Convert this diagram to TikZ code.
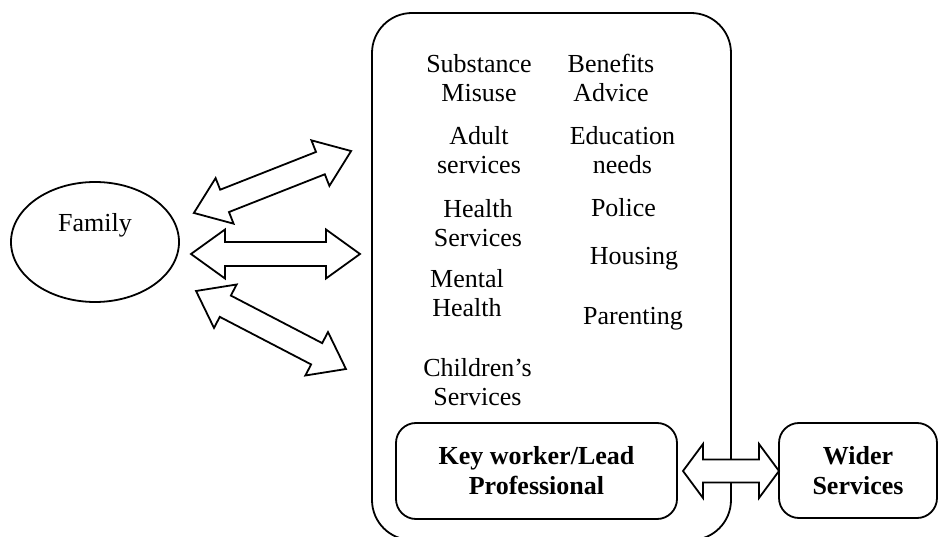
\documentclass[tikz,border=0pt]{standalone}
\usepackage{fontspec}
\setmainfont{Liberation Serif}
\usetikzlibrary{shapes.geometric}
\begin{document}
\begin{tikzpicture}[x=1pt,y=-1pt,
  % labels are placed by the baseline of their last line
  lbl/.style={font=\fontsize{26}{29}\selectfont, align=center, inner sep=0pt, anchor=base},
  boldbox/.style={draw, line width=1.8pt, rounded corners=20pt, inner sep=0pt,
    font=\fontsize{26}{30}\selectfont\bfseries, align=center},
  frame/.style={draw, line width=1.8pt},
  hollow/.style={draw, line width=1.8pt, fill=white, line join=miter},
  % two-headed block arrow: half length, head length, half head width, half shaft width
  pics/twoway/.style n args={4}{code={
    \draw[hollow] (-#1,0) -- ({#2-#1},#3) -- ({#2-#1},#4) -- ({#1-#2},#4) -- ({#1-#2},#3)
      -- (#1,0) -- ({#1-#2},-#3) -- ({#1-#2},-#4) -- ({#2-#1},-#4) -- ({#2-#1},-#3) -- cycle;
  }}
]
\useasboundingbox (0,0) rectangle (938,537);
\clip (0,0) rectangle (938,537);

% the family
\node[frame, ellipse, minimum width=168pt, minimum height=120pt, inner sep=0pt,
  font=\fontsize{26}{29}\selectfont, text height=17.7pt, text depth=37.7pt]
  (family) at (95,242) {Family};

% the team around the family
\node[frame, rounded corners=40pt, minimum width=359pt, minimum height=527pt, inner sep=0pt]
  (hub) at (551.5,276.5) {};

\node[lbl] (s1) at (479,101.5) {Substance\\Misuse};
\node[lbl] (s2) at (611,101.5) {Benefits\\Advice};
\node[lbl] (s3) at (479,173.5) {Adult\\services};
\node[lbl] (s4) at (622.5,173.5) {Education\\needs};
\node[lbl] (s5) at (478,246.5) {Health\\Services};
\node[lbl] (s6) at (623.5,217) {Police};
\node[lbl] (s7) at (634,265) {Housing};
\node[lbl] (s8) at (467,317) {Mental\\Health};
\node[lbl] (s9) at (633,324.5) {Parenting};
\node[lbl] (s10) at (477.5,406) {Children’s\\Services};

% links between the family and the services
\pic[rotate=21.5] at (272.5,182) {twoway={84.5}{33}{24.5}{12}};
\pic at (275.5,254) {twoway={84.5}{34}{24.5}{12}};
\pic[rotate=-27.5] at (271,330) {twoway={84.5}{33}{24.5}{12}};

% link to the wider services
\pic at (731,471) {twoway={48}{20}{27}{11.5}};

\node[boldbox, minimum width=281pt, minimum height=96pt] (key) at (536.5,471)
  {Key worker/Lead\\Professional};
\node[boldbox, minimum width=158pt, minimum height=95pt] (wider) at (858,470.5)
  {Wider\\Services};
\end{tikzpicture}
\end{document}
